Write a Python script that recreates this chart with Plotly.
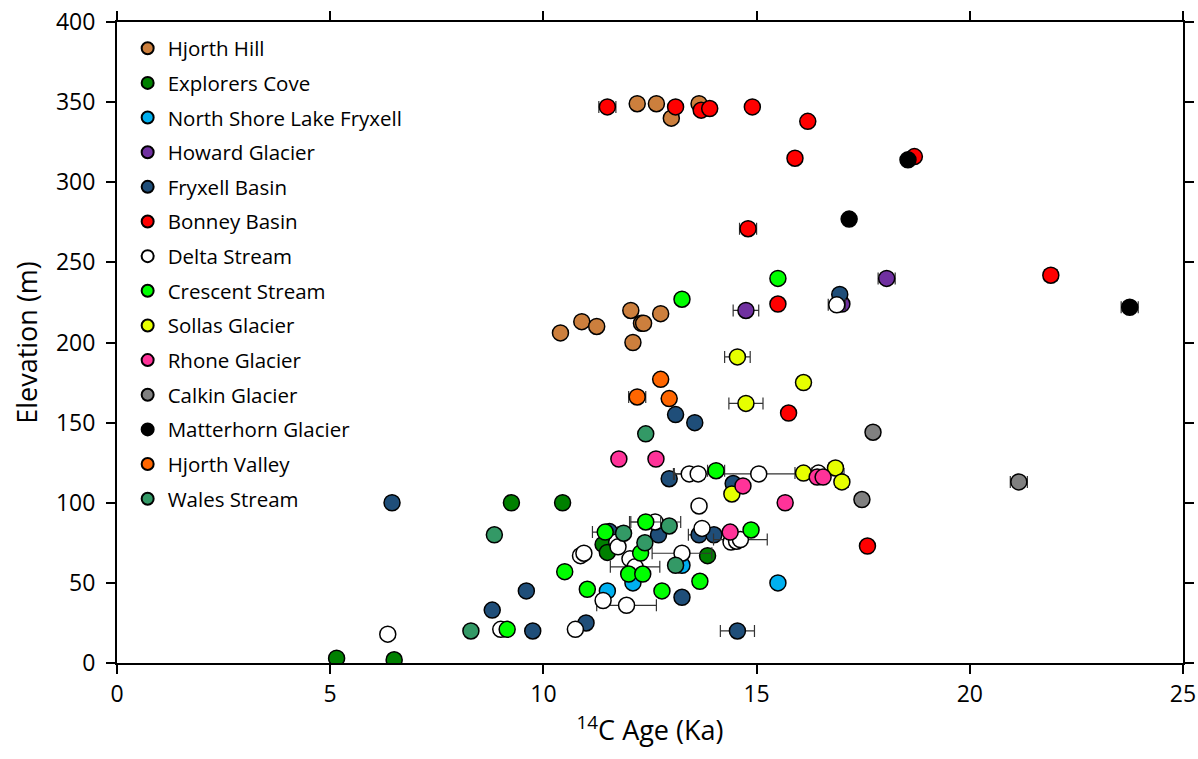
import plotly.graph_objects as go

# ---- data: radiocarbon age (ka) vs elevation (m), with 1-sigma age errors ----
series_names = [
    "Hjorth Hill", "Explorers Cove", "North Shore Lake Fryxell", "Howard Glacier",
    "Fryxell Basin", "Bonney Basin", "Delta Stream", "Crescent Stream",
    "Sollas Glacier", "Rhone Glacier", "Calkin Glacier", "Matterhorn Glacier",
    "Hjorth Valley", "Wales Stream",
]
series_colors = [
    "#CC7F3D", "#008000", "#00B0F0", "#7030A0",
    "#1F4E79", "#FF0000", "#FFFFFF", "#00FF00",
    "#E6FF00", "#FF3399", "#808080", "#000000",
    "#FF6600", "#339966",
]

hjorth_hill_age = [12.2, 12.65, 13.0, 13.65, 10.4, 10.9, 11.25, 12.05, 12.1, 12.3, 12.35, 12.75]
hjorth_hill_elev = [349, 349, 340, 349, 206, 213, 210, 220, 200, 212, 212, 218]
hjorth_hill_err = [0, 0, 0, 0, 0, 0, 0, 0, 0, 0, 0, 0]

explorers_cove_age = [5.15, 6.5, 9.25, 10.45, 11.4, 11.5, 13.85]
explorers_cove_elev = [3, 2, 100, 100, 74, 69, 67]
explorers_cove_err = [0, 0, 0, 0, 0, 0, 0]

north_shore_age = [15.5, 11.5, 12.1, 13.25]
north_shore_elev = [50, 45, 50, 61]
north_shore_err = [0, 0, 0, 0]

howard_age = [14.75, 18.05, 17.0]
howard_elev = [220, 240, 224]
howard_err = [0.3, 0.2, 0]

fryxell_age = [6.45, 8.8, 9.6, 9.75, 11.0, 13.1, 13.55, 12.95, 14.45, 12.7, 13.65, 14.0, 13.25, 14.55, 16.95, 11.55]
fryxell_elev = [100, 33, 45, 20, 25, 155, 150, 115, 112, 80, 80, 80, 41, 20, 230, 82]
fryxell_err = [0, 0, 0, 0, 0, 0, 0, 0, 0, 0, 0.25, 0, 0, 0.4, 0, 0]

bonney_age = [11.5, 13.1, 13.7, 13.9, 14.9, 16.2, 15.9, 18.7, 14.8, 15.5, 21.9, 15.75, 17.6]
bonney_elev = [347, 347, 345, 346, 347, 338, 315, 316, 271, 224, 242, 156, 73]
bonney_err = [0.2, 0, 0, 0, 0, 0, 0, 0, 0.2, 0, 0.15, 0, 0]

delta_age = [6.35, 9.0, 10.75, 11.4, 11.95, 10.87, 10.95, 11.72, 11.75, 12.03, 12.15, 12.62,
             13.25, 13.72, 13.65, 14.4, 14.53, 14.62, 13.42, 13.63, 15.05, 16.45, 16.88]
delta_elev = [18, 21, 21, 39, 36, 67, 68.5, 75.5, 72.5, 65, 60, 88,
              68.5, 84, 98, 75.5, 76, 77, 118, 118, 118, 118.5, 223.5]
delta_err = [0, 0, 0, 0, 0.7, 0, 0, 0, 0, 0, 0.58, 0.6,
             0.7, 0, 0.1, 0, 0, 0.63, 0.35, 0, 2.0, 0, 0.2]

crescent_age = [9.15, 10.5, 11.03, 11.45, 12.4, 12.28, 12.0, 12.33, 12.78, 13.67, 14.87, 14.05, 13.25, 15.5]
crescent_elev = [21, 57, 46, 81.7, 88, 68.6, 55.5, 55.5, 45, 51, 83, 120, 227, 240]
crescent_err = [0, 0, 0, 0.3, 0.35, 0, 0, 0, 0, 0, 0, 0.2, 0, 0.1]

sollas_age = [14.55, 16.1, 14.75, 16.1, 16.85, 17.0, 14.42]
sollas_elev = [191, 175, 162, 118.5, 121.7, 113, 105.5]
sollas_err = [0.3, 0, 0.4, 0.2, 0.15, 0.15, 0]

rhone_age = [11.77, 12.64, 14.68, 15.67, 16.42, 16.56, 14.38]
rhone_elev = [127.3, 127.3, 110.5, 100, 116, 116, 81.7]
rhone_err = [0, 0, 0, 0.1, 0, 0, 0]

calkin_age = [17.73, 17.47, 21.15]
calkin_elev = [144, 102, 113]
calkin_err = [0, 0, 0.2]

matterhorn_age = [17.17, 18.55, 23.75]
matterhorn_elev = [277, 314, 222]
matterhorn_err = [0, 0, 0.2]

hjorth_valley_age = [12.75, 12.2, 12.95]
hjorth_valley_elev = [177, 166, 165]
hjorth_valley_err = [0, 0.2, 0]

wales_age = [8.85, 8.3, 12.4, 12.95, 11.88, 12.38, 13.1]
wales_elev = [80, 20, 143, 85.5, 81, 75, 61]
wales_err = [0, 0, 0, 0, 0, 0, 0]

series_data = [
    (hjorth_hill_age, hjorth_hill_elev, hjorth_hill_err),
    (explorers_cove_age, explorers_cove_elev, explorers_cove_err),
    (north_shore_age, north_shore_elev, north_shore_err),
    (howard_age, howard_elev, howard_err),
    (fryxell_age, fryxell_elev, fryxell_err),
    (bonney_age, bonney_elev, bonney_err),
    (delta_age, delta_elev, delta_err),
    (crescent_age, crescent_elev, crescent_err),
    (sollas_age, sollas_elev, sollas_err),
    (rhone_age, rhone_elev, rhone_err),
    (calkin_age, calkin_elev, calkin_err),
    (matterhorn_age, matterhorn_elev, matterhorn_err),
    (hjorth_valley_age, hjorth_valley_elev, hjorth_valley_err),
    (wales_age, wales_elev, wales_err),
]

x_ticks = [0, 5, 10, 15, 20, 25]
y_ticks = [0, 50, 100, 150, 200, 250, 300, 350, 400]

FONT = "Open Sans"

fig = go.Figure()
for i, (name, color, (age, elev, err)) in enumerate(zip(series_names, series_colors, series_data)):
    fig.add_trace(go.Scatter(
        x=age, y=elev, mode="markers", name=name,
        legendgroup=f"g{i}",
        marker=dict(size=16, color=color, line=dict(color="black", width=1.5)),
        error_x=dict(type="data", array=err, visible=True,
                     color="#333333", thickness=1.2, width=6),
    ))

axis_common = dict(
    showline=True, linecolor="black", linewidth=2, mirror="ticks",
    ticks="outside", ticklen=9, tickwidth=2, tickcolor="black",
    showgrid=False, zeroline=False, automargin=False,
    tickfont=dict(family=FONT, size=23, color="black"),
)

fig.update_layout(
    width=1198, height=759,
    margin=dict(l=117, r=15, t=22, b=96),
    paper_bgcolor="white", plot_bgcolor="white",
    font=dict(family=FONT, color="black"),
    showlegend=True,
    legend=dict(
        x=0.01, y=0.99, xanchor="left", yanchor="top",
        font=dict(family=FONT, size=20.5, color="black"),
        bgcolor="rgba(0,0,0,0)", tracegroupgap=5,
        itemsizing="constant",
    ),
    xaxis=dict(
        range=[0, 25], tickvals=x_ticks,
        title=dict(text="<sup>14</sup>C Age (Ka)", font=dict(family=FONT, size=27), standoff=14),
        **axis_common,
    ),
    yaxis=dict(
        range=[0, 400], tickvals=y_ticks, ticklabelstandoff=6,
        title=dict(text="Elevation (m)", font=dict(family=FONT, size=27), standoff=10),
        **axis_common,
    ),
)

fig.write_html("out.html")
